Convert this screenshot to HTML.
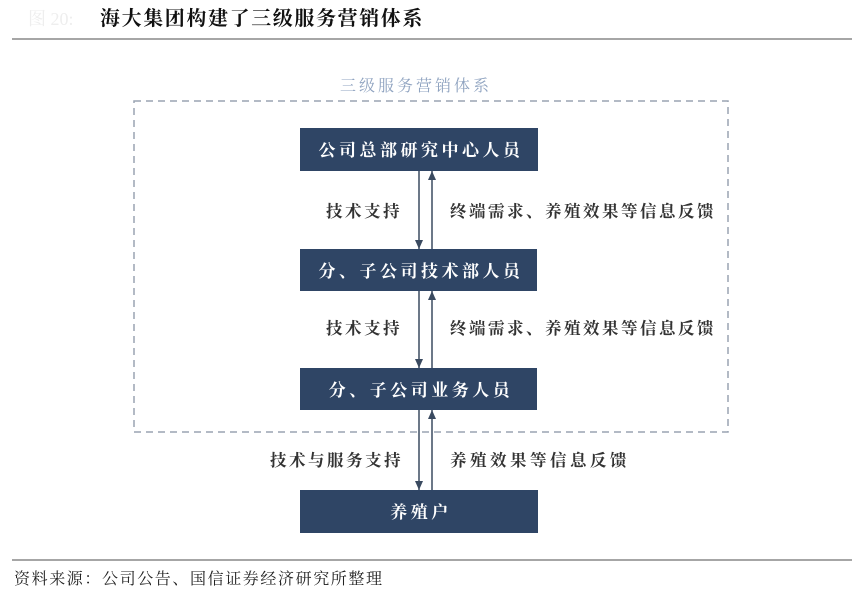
<!DOCTYPE html>
<html><head><meta charset="utf-8"><style>
body{margin:0;background:#fff;width:864px;height:595px;overflow:hidden}
svg{display:block}
text{font-family:"Liberation Serif","Noto Serif CJK SC","Noto Sans CJK SC",serif}
</style></head><body>
<svg width="864" height="595" viewBox="0 0 864 595">
<defs>
<marker id="a" markerWidth="9" markerHeight="8" refX="9" refY="4" orient="auto" markerUnits="userSpaceOnUse"><path d="M0,0 L9,4 L0,8 Z" fill="#3a4a60"/></marker>
</defs>
<text x="100" y="25" font-size="20" font-weight="bold" fill="#111" letter-spacing="1.6">海大集团构建了三级服务营销体系</text>
<text x="28" y="25" font-size="18" fill="#eee">图 20:</text>
<line x1="12" y1="39" x2="852" y2="39" stroke="#888" stroke-width="1.5"/>
<text x="340" y="91" font-size="16" fill="#8fa3c0" letter-spacing="3">三级服务营销体系</text>
<rect x="134" y="101" width="594" height="331" fill="none" stroke="#9aa4b2" stroke-width="1.5" stroke-dasharray="7,5"/>
<g fill="#2f4565">
<rect x="300" y="128" width="238" height="43"/>
<rect x="300" y="249" width="237" height="42"/>
<rect x="300" y="368" width="237" height="42"/>
<rect x="300" y="490" width="238" height="43"/>
</g>
<g fill="#fff" font-size="17" font-weight="bold" text-anchor="middle" letter-spacing="3.5">
<text x="421" y="156">公司总部研究中心人员</text>
<text x="421" y="277">分、子公司技术部人员</text>
<text x="421" y="396">分、子公司业务人员</text>
<text x="421" y="518">养殖户</text>
</g>
<g stroke="#3a4a60" stroke-width="1.5">
<line x1="419" y1="171" x2="419" y2="249" marker-end="url(#a)"/>
<line x1="432" y1="249" x2="432" y2="171" marker-end="url(#a)"/>
<line x1="419" y1="291" x2="419" y2="368" marker-end="url(#a)"/>
<line x1="432" y1="368" x2="432" y2="291" marker-end="url(#a)"/>
<line x1="419" y1="410" x2="419" y2="490" marker-end="url(#a)"/>
<line x1="432" y1="490" x2="432" y2="410" marker-end="url(#a)"/>
</g>
<g fill="#333" font-size="16.5" font-weight="bold" letter-spacing="2.5">
<text x="326" y="217">技术支持</text>
<text x="450" y="217">终端需求、养殖效果等信息反馈</text>
<text x="326" y="334">技术支持</text>
<text x="450" y="334">终端需求、养殖效果等信息反馈</text>
<text x="270" y="466">技术与服务支持</text>
<text x="450" y="466" letter-spacing="3.5">养殖效果等信息反馈</text>
</g>
<line x1="12" y1="560" x2="852" y2="560" stroke="#888" stroke-width="1.5"/>
<text x="14" y="584" font-size="16" fill="#222" letter-spacing="1.6">资料来源：公司公告、国信证券经济研究所整理</text>
</svg>
</body></html>
